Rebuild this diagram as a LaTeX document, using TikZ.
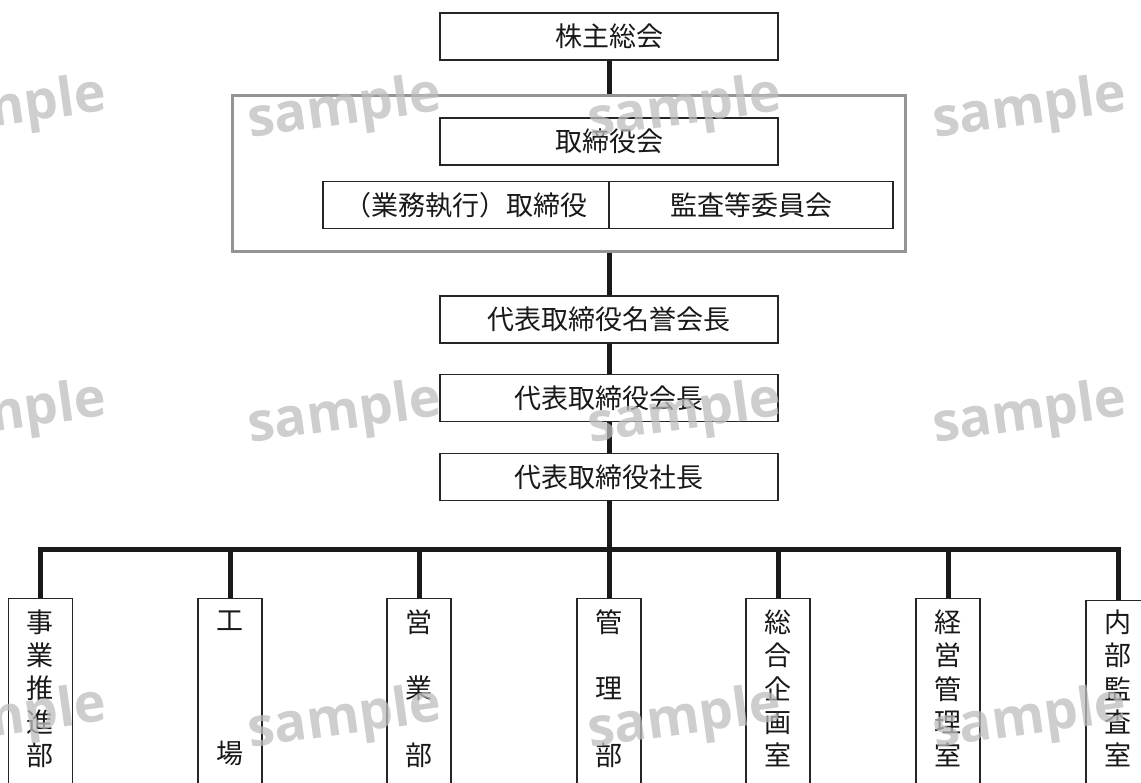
\documentclass[tikz,border=0pt]{standalone}
\usepackage{fontspec}
\newfontfamily\cjk{Noto Sans CJK JP}
\newfontfamily\wmfont{Open Sans}
\begin{document}
\begin{tikzpicture}[x=1pt,y=-1pt,
  box/.style={draw=black!85, line width=1.3pt, fill=white, minimum width=338pt, minimum height=47pt, inner sep=0pt, font=\cjk\fontsize{27}{32}\selectfont, text=black!90},
  halfbox/.style={box, minimum width=#1},
  vbox/.style={draw=black!85, line width=1.3pt, fill=white, minimum width=64pt, minimum height=230pt, anchor=north, inner sep=0pt},
  vtext/.style={align=center, inner sep=0pt, text=black!90, font=\cjk\fontsize{27}{#1}\selectfont},
  conn/.style={line width=5pt, draw=black!90},
  grpframe/.style={draw=black!42, line width=3pt, minimum width=673pt, minimum height=156pt, inner sep=0pt},
  wm/.style={font=\wmfont\bfseries\fontsize{54}{54}\selectfont, text=black!26, opacity=0.75, rotate=8, inner sep=0pt}
]
\useasboundingbox (0,0) rectangle (1141,783);
\begin{scope}
\clip (0,0) rectangle (1141,783);
% nodes
\node[grpframe] (grp) at (568.5,173.5) {};
\node[box] (kabu) at (609,36.5) {株主総会};
\node[box] (tori) at (609,141.5) {取締役会};
\node[halfbox=286pt] (gyomu) at (466,205) {（業務執行）取締役};
\node[halfbox=284pt] (kansa) at (751,205) {監査等委員会};
\node[box] (meiyo) at (609,319.5) {代表取締役名誉会長};
\node[box] (kaicho) at (609,398) {代表取締役会長};
\node[box] (shacho) at (609,477) {代表取締役社長};
\coordinate (bus) at (609,549);
% connectors
\draw[conn] (kabu.south) -- (kabu.south |- grp.north);
\draw[conn] (meiyo.north |- grp.south) -- (meiyo.north);
\draw[conn] (meiyo.south) -- (kaicho.north);
\draw[conn] (kaicho.south) -- (shacho.north);
\draw[conn] (shacho.south) -- (bus);
% bottom boxes
\node[vbox] (b1) at (40.5,598) {};
\node[vbox] (b2) at (230,598) {};
\node[vbox] (b3) at (419,598) {};
\node[vbox] (b4) at (609,598) {};
\node[vbox] (b5) at (778,598) {};
\node[vbox] (b6) at (948,598) {};
\node[vbox] (b7) at (1118,600) {};
\draw[conn] (b1.north) |- (b7.north |- bus) -- (b7.north);
\foreach \b in {b2,b3,b4,b5,b6} \draw[conn] (\b.north) -- (\b.north |- bus);
\node[vtext=33.3pt] (t1) at (40.5,688.5) {事\\業\\推\\進\\部};
\node[vtext=133pt] (t2) at (230,688.5) {工\\場};
\node[vtext=66.5pt] (t3) at (419,688.5) {営\\業\\部};
\node[vtext=66.5pt] (t4) at (609,688.5) {管\\理\\部};
\node[vtext=33.3pt] (t5) at (778,688.5) {総\\合\\企\\画\\室};
\node[vtext=33.3pt] (t6) at (948,688.5) {経\\営\\管\\理\\室};
\node[vtext=33.3pt] (t7) at (1118,688.5) {内\\部\\監\\査\\室};
% watermarks
\foreach \wx in {10,345,685,1030}
  \foreach \wy in {110,415,720}
    \node[wm] at (\wx,\wy) {sample};
\end{scope}
\end{tikzpicture}
\end{document}
